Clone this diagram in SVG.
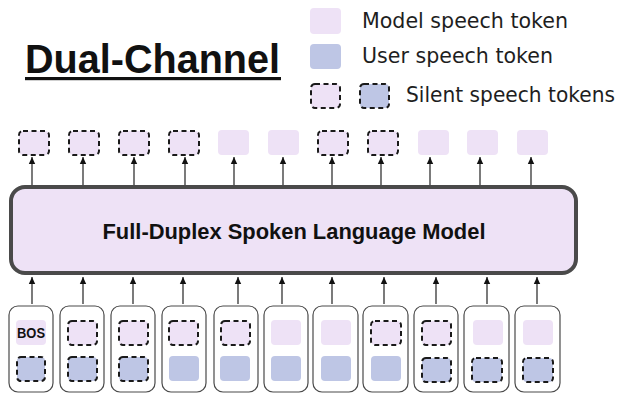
<svg xmlns="http://www.w3.org/2000/svg" width="619" height="393" viewBox="0 0 619 393">
<style>
.pk{fill:#eee2f6}
.bl{fill:#bec6e5}
.ds{stroke:#1a1a1a;stroke-width:2;stroke-dasharray:5,3.5}
.col{fill:#fff;stroke:#4a4a4a;stroke-width:1.2}
.ar{stroke:#333;stroke-width:1.3;fill:none;marker-end:url(#ah)}
.lg{font-family:"DejaVu Sans","Liberation Sans",Arial,sans-serif;font-size:20.5px;fill:#1e1e1e}
</style>
<defs>
<marker id="ah" markerUnits="userSpaceOnUse" markerWidth="8" markerHeight="8" refX="7" refY="4" orient="auto">
<path d="M0,0.8 L7,4 L0,7.2 z" fill="#111"/>
</marker>
</defs>
<rect width="619" height="393" fill="#fff"/>

<g id="title">
<text x="25" y="73" font-family="'Liberation Sans',Arial,sans-serif" font-weight="bold" font-size="41" fill="#111" textLength="255" lengthAdjust="spacingAndGlyphs">Dual-Channel</text>
<rect x="25" y="77" width="256" height="3.2" fill="#111"/>
</g>

<g id="legend">
<rect class="pk" x="310" y="8" width="31" height="26" rx="4"/>
<text class="lg" x="362" y="28" textLength="206" lengthAdjust="spacingAndGlyphs">Model speech token</text>
<rect class="bl" x="310" y="44" width="31" height="25" rx="4"/>
<text class="lg" x="362" y="63" textLength="191" lengthAdjust="spacingAndGlyphs">User speech token</text>
<rect class="pk ds" x="311" y="84" width="29" height="24" rx="4"/>
<rect class="bl ds" x="360" y="84" width="29" height="24" rx="4"/>
<text class="lg" x="406" y="102" textLength="209" lengthAdjust="spacingAndGlyphs">Silent speech tokens</text>
</g>

<g id="outputs">
<rect class="pk ds" x="19" y="131" width="30" height="24" rx="4"/>
<rect class="pk ds" x="69" y="131" width="30" height="24" rx="4"/>
<rect class="pk ds" x="119" y="131" width="30" height="24" rx="4"/>
<rect class="pk ds" x="169" y="131" width="30" height="24" rx="4"/>
<rect class="pk" x="218" y="130" width="31" height="25" rx="4"/>
<rect class="pk" x="268" y="130" width="31" height="25" rx="4"/>
<rect class="pk ds" x="318" y="131" width="30" height="24" rx="4"/>
<rect class="pk ds" x="368" y="131" width="30" height="24" rx="4"/>
<rect class="pk" x="418" y="130" width="31" height="25" rx="4"/>
<rect class="pk" x="467" y="130" width="31" height="25" rx="4"/>
<rect class="pk" x="517" y="130" width="31" height="25" rx="4"/>
</g>

<g id="model">
<rect x="11" y="187" width="565" height="86" rx="14" fill="#eee2f6" stroke="#4a4a4a" stroke-width="4"/>
<text x="294" y="239" text-anchor="middle" font-family="'Liberation Sans',Arial,sans-serif" font-weight="bold" font-size="22" fill="#111" textLength="383" lengthAdjust="spacingAndGlyphs">Full-Duplex Spoken Language Model</text>
</g>

<g id="inputs">
<g id="c1"><rect class="col" x="9" y="306" width="44" height="86" rx="9"/>
<rect class="pk" x="16" y="320" width="30" height="25" rx="4"/>
<text x="31" y="338" text-anchor="middle" font-family="'Liberation Sans',Arial,sans-serif" font-weight="bold" font-size="14" fill="#111" textLength="28" lengthAdjust="spacingAndGlyphs">BOS</text>
<rect class="bl ds" x="17" y="357" width="28" height="24" rx="4"/></g>
<g id="c2"><rect class="col" x="60" y="306" width="44" height="86" rx="9"/>
<rect class="pk ds" x="68" y="321" width="29" height="24" rx="4"/>
<rect class="bl ds" x="68" y="357" width="29" height="24" rx="4"/></g>
<g id="c3"><rect class="col" x="111" y="306" width="44" height="86" rx="9"/>
<rect class="pk ds" x="119" y="321" width="29" height="24" rx="4"/>
<rect class="bl ds" x="119" y="357" width="29" height="24" rx="4"/></g>
<g id="c4"><rect class="col" x="162" y="306" width="44" height="86" rx="9"/>
<rect class="pk ds" x="169" y="321" width="29" height="24" rx="4"/>
<rect class="bl" x="169" y="356" width="30" height="25" rx="4"/></g>
<g id="c5"><rect class="col" x="214" y="306" width="44" height="86" rx="9"/>
<rect class="pk ds" x="221" y="321" width="29" height="24" rx="4"/>
<rect class="bl" x="220" y="356" width="30" height="25" rx="4"/></g>
<g id="c6"><rect class="col" x="264" y="306" width="44" height="86" rx="9"/>
<rect class="pk" x="271" y="320" width="30" height="25" rx="4"/>
<rect class="bl" x="271" y="356" width="30" height="25" rx="4"/></g>
<g id="c7"><rect class="col" x="313" y="306" width="45" height="86" rx="9"/>
<rect class="pk" x="321" y="320" width="30" height="25" rx="4"/>
<rect class="bl" x="321" y="356" width="30" height="25" rx="4"/></g>
<g id="c8"><rect class="col" x="363" y="306" width="45" height="86" rx="9"/>
<rect class="pk ds" x="371" y="321" width="30" height="24" rx="4"/>
<rect class="bl" x="371" y="356" width="30" height="25" rx="4"/></g>
<g id="c9"><rect class="col" x="414" y="306" width="44" height="86" rx="9"/>
<rect class="pk ds" x="422" y="321" width="29" height="24" rx="4"/>
<rect class="bl ds" x="422" y="358" width="29" height="24" rx="4"/></g>
<g id="c10"><rect class="col" x="464" y="306" width="45" height="86" rx="9"/>
<rect class="pk" x="473" y="320" width="30" height="25" rx="4"/>
<rect class="bl ds" x="472" y="358" width="30" height="24" rx="4"/></g>
<g id="c11"><rect class="col" x="515" y="306" width="45" height="86" rx="9"/>
<rect class="pk" x="523" y="320" width="30" height="25" rx="4"/>
<rect class="bl ds" x="523" y="358" width="30" height="24" rx="4"/></g>
</g>

<g id="connectors">
<path class="ar" d="M32,185V157"/>
<path class="ar" d="M83,185V157"/>
<path class="ar" d="M134,185V157"/>
<path class="ar" d="M185,185V157"/>
<path class="ar" d="M234,185V157"/>
<path class="ar" d="M283,185V157"/>
<path class="ar" d="M332,185V157"/>
<path class="ar" d="M381,185V157"/>
<path class="ar" d="M430,185V157"/>
<path class="ar" d="M480,185V157"/>
<path class="ar" d="M531,185V157"/>
<path class="ar" d="M32,304V277"/>
<path class="ar" d="M83,304V277"/>
<path class="ar" d="M133,304V277"/>
<path class="ar" d="M183,304V277"/>
<path class="ar" d="M238,304V277"/>
<path class="ar" d="M282,304V277"/>
<path class="ar" d="M332,304V277"/>
<path class="ar" d="M384,304V277"/>
<path class="ar" d="M436,304V277"/>
<path class="ar" d="M487,304V277"/>
<path class="ar" d="M537,304V277"/>
</g>
</svg>
